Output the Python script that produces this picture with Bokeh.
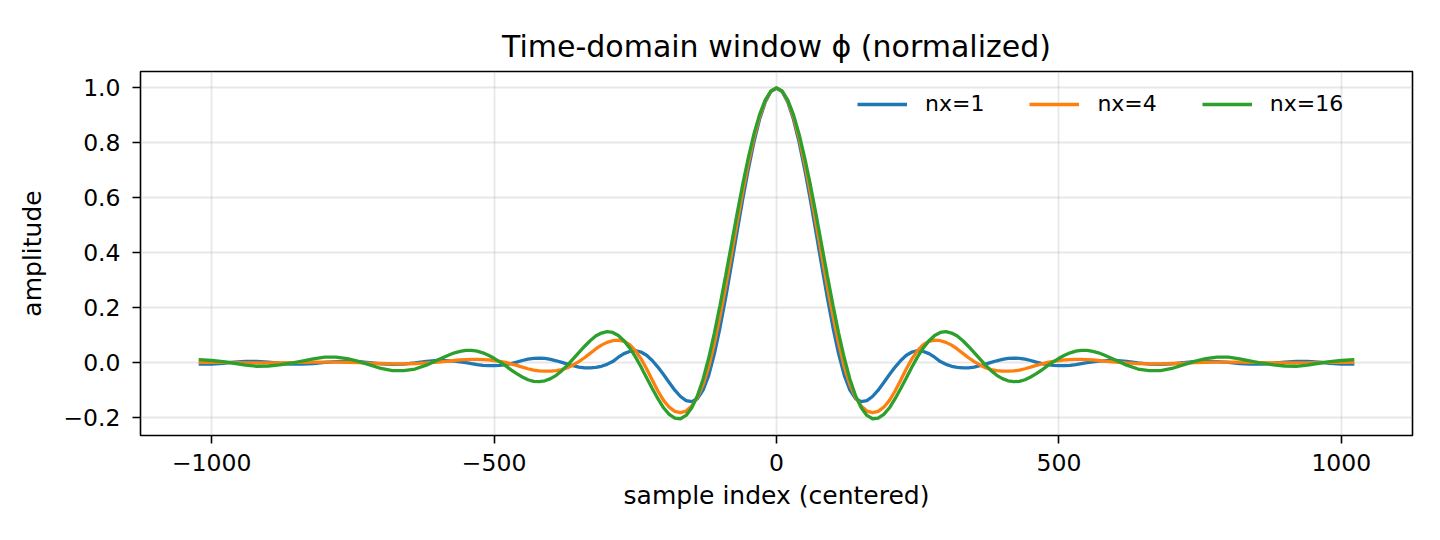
from bokeh.plotting import figure
from bokeh.models import Range1d, FixedTicker, CustomJSTickFormatter, Legend, LegendItem
from bokeh.embed import file_html
from bokeh.resources import INLINE

# sample positions (n >= 0); the windows are symmetric about 0
n_pos = [0, 10, 20, 30, 40, 50, 60, 70, 80, 90, 100, 110, 120, 130, 140, 150, 160, 170, 180, 190,
         200, 210, 220, 230, 240, 250, 260, 270, 280, 290, 300, 310, 320, 330, 340, 350, 360, 370, 380, 390,
         400, 410, 420, 430, 440, 450, 460, 470, 480, 490, 500, 510, 520, 530, 540, 550, 560, 570, 580, 590,
         600, 620, 640, 660, 680, 700, 720, 740, 760, 780, 800, 820, 840, 860, 880, 900, 920, 940, 960, 980,
         1000, 1023]

phi_nx1 = [1.000, 0.987, 0.948, 0.886, 0.803, 0.703, 0.592, 0.474, 0.354, 0.237, 0.128, 0.032, -0.046, -0.100,
           -0.131, -0.142, -0.138, -0.123, -0.100, -0.072, -0.043, -0.016, 0.008, 0.027, 0.039, 0.044, 0.041,
           0.033, 0.020, 0.004, -0.006, -0.013, -0.017, -0.019, -0.019, -0.016, -0.011, -0.005, 0.001, 0.007,
           0.012, 0.016, 0.017, 0.016, 0.013, 0.008, 0.002, -0.003, -0.007, -0.010, -0.011, -0.011, -0.010,
           -0.007, -0.003, 0.000, 0.003, 0.006, 0.007, 0.008, 0.008,
           0.005, -0.001, -0.005, -0.006, -0.004, 0.000, 0.004, 0.005, 0.004, 0.001, -0.003, -0.005, -0.005,
           -0.002, 0.002, 0.005, 0.005, 0.002, -0.002, -0.005, -0.005]

phi_nx4 = [1.000, 0.988, 0.952, 0.895, 0.818, 0.724, 0.620, 0.507, 0.391, 0.277, 0.169, 0.070, -0.015, -0.080,
           -0.126, -0.158, -0.176, -0.182, -0.177, -0.162, -0.137, -0.103, -0.063, -0.022, 0.015, 0.045, 0.066,
           0.078, 0.082, 0.080, 0.074, 0.064, 0.050, 0.034, 0.018, 0.004, -0.008, -0.018, -0.025, -0.029,
           -0.031, -0.031, -0.030, -0.027, -0.022, -0.016, -0.010, -0.004, 0.001, 0.005, 0.008, 0.010, 0.011,
           0.012, 0.012, 0.011, 0.010, 0.008, 0.006, 0.004, 0.002,
           -0.001, -0.003, -0.004, -0.004, -0.003, -0.002, 0.000, 0.001, 0.002, 0.002, 0.002, 0.001, 0.000,
           -0.001, -0.001, -0.001, -0.001, 0.000, 0.001, 0.001, 0.001]

phi_nx16 = [1.000, 0.989, 0.956, 0.903, 0.832, 0.745, 0.647, 0.540, 0.428, 0.317, 0.209, 0.108, 0.017, -0.060,
            -0.120, -0.164, -0.192, -0.204, -0.202, -0.188, -0.164, -0.131, -0.094, -0.055, -0.015, 0.022, 0.054,
            0.080, 0.099, 0.110, 0.113, 0.108, 0.097, 0.080, 0.059, 0.037, 0.014, -0.009, -0.029, -0.046,
            -0.058, -0.066, -0.069, -0.068, -0.062, -0.052, -0.040, -0.026, -0.011, 0.003, 0.016, 0.027, 0.036,
            0.042, 0.045, 0.045, 0.041, 0.036, 0.028, 0.019, 0.010,
            -0.009, -0.023, -0.029, -0.029, -0.021, -0.008, 0.005, 0.015, 0.020, 0.020, 0.014, 0.006, -0.002,
            -0.008, -0.012, -0.013, -0.009, -0.002, 0.004, 0.008, 0.011]

series_labels = ["nx=1", "nx=4", "nx=16"]
series_values = [phi_nx1, phi_nx4, phi_nx16]
colors = ["#1f77b4", "#ff7f0e", "#2ca02c"]

x_ticks = [-1000, -500, 0, 500, 1000]
y_ticks = [-0.2, 0.0, 0.2, 0.4, 0.6, 0.8, 1.0]

FONT = "DejaVu Sans"


def mirror_x(v):
    return [-a for a in reversed(v[1:])] + list(v)


def mirror_y(v):
    return list(reversed(v[1:])) + list(v)


p = figure(width=1440, height=540, output_backend="svg", toolbar_location=None,
           x_range=Range1d(-1126, 1126), y_range=Range1d(-0.265, 1.06),
           min_border_left=140, min_border_right=28, min_border_top=71, min_border_bottom=105)

p.title.text = "Time-domain window \u03d5 (normalized)"
p.title.align = "center"
p.title.text_font = FONT
p.title.text_font_size = "30px"
p.title.text_font_style = "normal"
p.title.text_color = "black"
p.title.standoff = 15

p.outline_line_color = "black"
p.outline_line_width = 1.6
p.background_fill_color = "white"
p.border_fill_color = "white"

p.xaxis.ticker = FixedTicker(ticks=x_ticks)
p.yaxis.ticker = FixedTicker(ticks=y_ticks)
p.xaxis.formatter = CustomJSTickFormatter(code="return tick.toFixed(0).replace('-', '\u2212');")
p.yaxis.formatter = CustomJSTickFormatter(code="return tick.toFixed(1).replace('-', '\u2212');")

for ax in (p.xaxis, p.yaxis):
    ax.axis_line_color = None
    ax.major_tick_line_color = "black"
    ax.major_tick_line_width = 1.6
    ax.major_tick_out = 8
    ax.major_tick_in = 0
    ax.minor_tick_line_color = None
    ax.major_label_text_font = FONT
    ax.major_label_text_font_size = "23.5px"
    ax.major_label_text_color = "black"
    ax.axis_label_text_font = FONT
    ax.axis_label_text_font_size = "25px"
    ax.axis_label_text_font_style = "normal"
    ax.axis_label_text_color = "black"

p.xaxis.axis_label = "sample index (centered)"
p.yaxis.axis_label = "amplitude"
p.xaxis.major_label_standoff = 10
p.yaxis.major_label_standoff = 12
p.xaxis.axis_label_standoff = 7
p.yaxis.axis_label_standoff = 13

p.grid.grid_line_color = "#b0b0b0"
p.grid.grid_line_alpha = 0.3
p.grid.grid_line_width = 1.8

items = []
for lab, vals, col in zip(series_labels, series_values, colors):
    r = p.line(mirror_x(n_pos), mirror_y(vals), line_color=col, line_width=3.3)
    items.append(LegendItem(label=lab, renderers=[r]))

legend = Legend(items=items, orientation="horizontal", location=(717, 319),
                border_line_color=None, background_fill_alpha=0.0,
                label_text_font=FONT, label_text_font_size="22px", label_text_color="black",
                glyph_width=50, glyph_height=20, label_standoff=18, spacing=45,
                padding=2, margin=0)
p.add_layout(legend)

open("out.html", "w").write(file_html(p, INLINE))
